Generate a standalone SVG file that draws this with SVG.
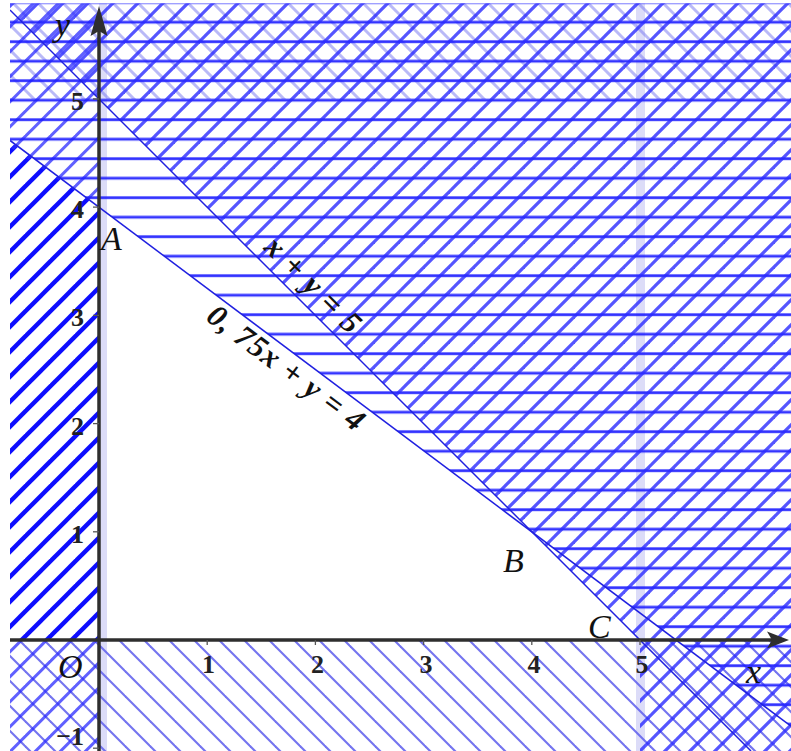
<svg xmlns="http://www.w3.org/2000/svg" width="791" height="751" viewBox="0 0 791 751">
<style>
.lbl{font-family:"Liberation Serif","DejaVu Serif",serif;font-style:italic;fill:#111}
.pt{font-size:34px}
.tick{font-family:"Liberation Serif","DejaVu Serif",serif;font-weight:bold;font-size:26px;fill:#222}
.eq{font-family:"Liberation Serif","DejaVu Serif",serif;font-style:italic;font-weight:bold;font-size:31px;fill:#111}
.bnd{stroke:#2020e0;stroke-width:1.5;fill:none}
.axis{stroke:#2e2e2e;stroke-width:3.5;fill:none}
.tk{stroke:#555;stroke-width:1.3}
</style>
<defs>
<pattern id="hHor" patternUnits="userSpaceOnUse" x="0" y="0" width="20" height="19.5">
<line x1="-1" y1="2.7" x2="21" y2="2.7" stroke="#1e1eff" stroke-width="2.8" stroke-opacity="0.9"/>
</pattern>
<pattern id="hSlash" patternUnits="userSpaceOnUse" x="0" y="0" width="25" height="25">
<g stroke="#2a2aff" stroke-width="3.3" stroke-opacity="0.8">
<line x1="26" y1="-10" x2="-10" y2="26"/>
<line x1="51" y1="-10" x2="-10" y2="51"/>
<line x1="1" y1="-10" x2="-10" y2="1"/>
</g>
</pattern>
<pattern id="hSlashL" patternUnits="userSpaceOnUse" x="0" y="0" width="25" height="25">
<g stroke="#2a2aff" stroke-width="3" stroke-opacity="0.75">
<line x1="21.7" y1="-10" x2="-10" y2="21.7"/>
<line x1="46.7" y1="-10" x2="-10" y2="46.7"/>
</g>
</pattern>
<pattern id="hSlashThick" patternUnits="userSpaceOnUse" x="0" y="0" width="25" height="25">
<g stroke="#0000ff" stroke-width="4.4" stroke-opacity="0.95">
<line x1="21.7" y1="-10" x2="-10" y2="21.7"/>
<line x1="46.7" y1="-10" x2="-10" y2="46.7"/>
</g>
</pattern>
<pattern id="hBack" patternUnits="userSpaceOnUse" x="0" y="0" width="25" height="25">
<g stroke="#6565ee" stroke-width="2.1" stroke-opacity="0.9">
<line x1="-10" y1="-14" x2="35" y2="31"/>
<line x1="-10" y1="11" x2="35" y2="56"/>
<line x1="-10" y1="-39" x2="35" y2="6"/>
</g>
</pattern>
<pattern id="hBackF" patternUnits="userSpaceOnUse" x="0" y="0" width="25" height="25">
<g stroke="#8080f0" stroke-width="3" stroke-opacity="0.55">
<line x1="-10" y1="-20" x2="35" y2="25"/>
<line x1="-10" y1="5" x2="35" y2="50"/>
<line x1="-10" y1="-45" x2="35" y2="0"/>
</g>
</pattern>
<clipPath id="cArea"><rect x="10" y="3.5" width="781" height="747.5"/></clipPath>
<clipPath id="cAbove4"><polygon points="10,0 791,0 791,726.2 10,140.45"/></clipPath>
<clipPath id="cAbove5">
<polygon points="10,0 791,0 791,751 751,751 10,10"/>
<rect x="640" y="0" width="151" height="751"/>
</clipPath>
<clipPath id="cNeg"><rect x="0" y="640" width="791" height="111"/></clipPath>
<clipPath id="cTop"><rect x="0" y="0" width="791" height="99"/></clipPath>
<clipPath id="cLeftOther">
<polygon points="0,0 99,0 99,207.2 0,140.45 0,0"/>
<rect x="0" y="640" width="99" height="111"/>
</clipPath>
<clipPath id="cLeftBand"><polygon points="0,133.8 99,207.2 99,640 0,640"/></clipPath>
</defs>
<rect x="0" y="0" width="791" height="751" fill="#ffffff"/>
<g id="regions" clip-path="url(#cArea)">
<rect id="band-x0" x="99" y="0" width="8" height="751" fill="#dcdcf8"/>
<rect id="band-x5" x="636" y="0" width="9" height="751" fill="#dcdcf8"/>
<g id="region-y-gt-5" clip-path="url(#cTop)"><rect x="0" y="0" width="791" height="751" fill="url(#hBackF)"/></g>
<g id="region-y-lt-0" clip-path="url(#cNeg)"><rect x="0" y="0" width="791" height="751" fill="url(#hBack)"/></g>
<g id="region-x-lt-0-band" clip-path="url(#cLeftBand)"><rect x="0" y="0" width="791" height="751" fill="url(#hSlashThick)"/></g>
<g id="region-x-lt-0" clip-path="url(#cLeftOther)"><rect x="0" y="0" width="791" height="751" fill="url(#hSlashL)"/></g>
<g id="region-075x-y-gt-4" clip-path="url(#cAbove4)"><rect x="0" y="0" width="791" height="751" fill="url(#hHor)"/></g>
<g id="region-x-y-gt-5" clip-path="url(#cAbove5)"><rect x="0" y="0" width="791" height="751" fill="url(#hSlash)"/></g>
</g>
<g id="connectors" clip-path="url(#cArea)">
<line id="line-075x-y-4" class="bnd" x1="10" y1="140.45" x2="791" y2="726.2"/>
<line id="line-x-y-5" class="bnd" x1="10" y1="10" x2="751" y2="751"/>
<line id="x-axis" class="axis" x1="10" y1="640" x2="775" y2="640"/>
<line id="y-axis" class="axis" x1="99" y1="751" x2="99" y2="25"/>
<path id="x-arrow" d="M789,640 L767,631.5 L772,640 L767,648.5 Z" fill="#2e2e2e"/>
<path id="y-arrow" d="M99,6 L90.5,36 L99,31 L107.5,36 Z" fill="#2e2e2e"/>
<g id="ticks">
<line class="tk" x1="207.2" y1="640" x2="207.2" y2="645"/>
<line class="tk" x1="315.4" y1="640" x2="315.4" y2="645"/>
<line class="tk" x1="423.6" y1="640" x2="423.6" y2="645"/>
<line class="tk" x1="531.8" y1="640" x2="531.8" y2="645"/>
<line class="tk" x1="640" y1="640" x2="640" y2="645"/>
<line class="tk" x1="93" y1="531.8" x2="99" y2="531.8"/>
<line class="tk" x1="93" y1="423.6" x2="99" y2="423.6"/>
<line class="tk" x1="93" y1="315.4" x2="99" y2="315.4"/>
<line class="tk" x1="93" y1="207.2" x2="99" y2="207.2"/>
<line class="tk" x1="93" y1="99" x2="99" y2="99"/>
<line class="tk" x1="93" y1="748.2" x2="99" y2="748.2"/>
</g>
</g>
<g id="tick-labels">
<text class="tick" x="208.5" y="673" text-anchor="middle">1</text>
<text class="tick" x="317.5" y="673" text-anchor="middle">2</text>
<text class="tick" x="426" y="673" text-anchor="middle">3</text>
<text class="tick" x="534" y="673" text-anchor="middle">4</text>
<text class="tick" x="642" y="673" text-anchor="middle">5</text>
<text class="tick" x="84" y="542.8" text-anchor="end">1</text>
<text class="tick" x="84" y="434.6" text-anchor="end">2</text>
<text class="tick" x="84" y="326.4" text-anchor="end">3</text>
<text class="tick" x="84" y="218.2" text-anchor="end">4</text>
<text class="tick" x="84" y="110" text-anchor="end">5</text>
<text class="tick" x="84" y="745" text-anchor="end">−1</text>
</g>
<g id="node-y" class="lbl pt"><text x="55" y="36">y</text></g>
<g id="node-x" class="lbl pt"><text x="746" y="683">x</text></g>
<g id="node-O" class="lbl pt"><text x="58" y="678">O</text></g>
<g id="node-A" class="lbl pt"><text x="101" y="250">A</text></g>
<g id="node-B" class="lbl pt"><text x="503" y="572">B</text></g>
<g id="node-C" class="lbl pt"><text x="588" y="638">C</text></g>
<g id="label-x-y-5"><text class="eq" x="306" y="292" text-anchor="middle" textLength="122" lengthAdjust="spacing" transform="rotate(45 306 292)">x + y = 5</text></g>
<g id="label-075x-y-4"><text class="eq" x="280" y="376" text-anchor="middle" textLength="188" lengthAdjust="spacing" transform="rotate(36.87 280 376)">0, 75x + y = 4</text></g>
</svg>
